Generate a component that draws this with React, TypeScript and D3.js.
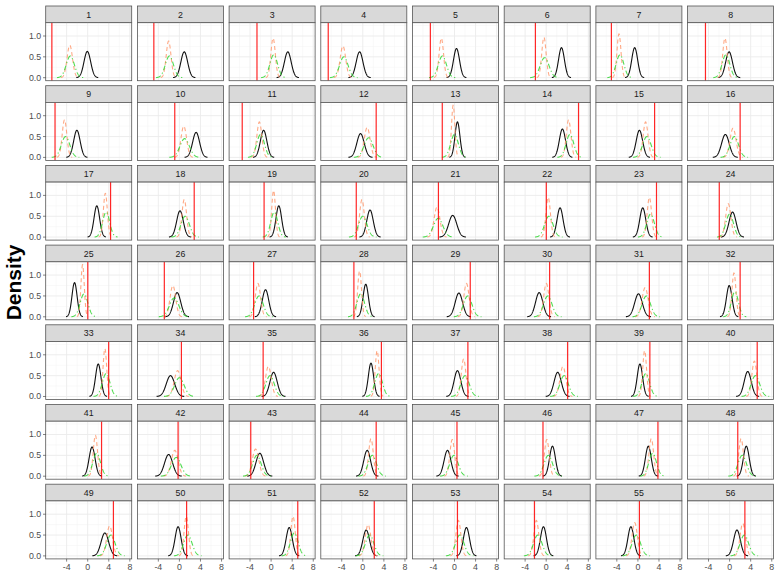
import React from 'react';
import * as d3 from 'd3';

const panelLabels: string[] = Array.from({ length: 56 }, (_, i) => String(i + 1));
const xTicks = [-4, 0, 4, 8];
const xMinor = [-6, -2, 2, 6];
const yTicks = [0, 0.5, 1.0];
const yTickLabels = ['0.0', '0.5', '1.0'];
const yMinor = [0.25, 0.75, 1.25];

// red vertical reference line per panel
const redLine = [
  -6.8, -4.85, -2.68, -6.56, -4.58, -2.05, -5.03, -4.58,
  -6.2, -0.88, -5.48, 2.54, -2.32, 6.14, 3.17, 2.0,
  4.34, 2.81, -1.33, -1.24, -3.05, 0.02, 3.53, -1.96,
  0.02, -2.86, -3.32, -1.69, 2.99, 0.65, 2.18, 2.0,
  3.98, 0.38, -1.51, 3.53, 2.54, 4.07, 2.27, 5.24,
  2.63, -0.25, -3.86, 2.54, 0.47, -0.61, 3.8, 1.55,
  4.88, 1.37, 5.06, 2.18, 0.56, -2.23, 0.29, 2.9,
];
// black solid curve: mode location and peak height
const blackMean = [
  -0.07, 0.92, 3.17, -0.61, 0.38, 2.9, -0.61, -0.1,
  -2.05, 3.17, -1.42, -0.43, 0.56, 3.08, 0.29, -0.8,
  1.73, 0.11, 1.46, 1.37, -0.34, 2.63, 0.92, 0.56,
  -2.5, -0.43, -1.06, 0.56, 0.83, -1.33, 0.11, -0.07,
  2.0, -1.69, 0.47, 1.55, 0.56, 2.18, 0.38, 3.44,
  0.83, -2.05, -2.14, 0.83, -1.33, 1.19, 1.98, 3.17,
  3.26, -0.25, 3.44, 0.65, 2.27, -0.52, -1.33, 1.4,
];
const blackPeak = [
  0.63, 0.62, 0.62, 0.62, 0.7, 0.72, 0.72, 0.62,
  0.65, 0.6, 0.65, 0.57, 0.85, 0.68, 0.65, 0.55,
  0.75, 0.63, 0.75, 0.65, 0.52, 0.7, 0.7, 0.6,
  0.82, 0.58, 0.65, 0.78, 0.57, 0.58, 0.55, 0.75,
  0.78, 0.5, 0.58, 0.8, 0.62, 0.58, 0.78, 0.6,
  0.7, 0.52, 0.55, 0.62, 0.62, 0.72, 0.72, 0.72,
  0.55, 0.7, 0.68, 0.62, 0.68, 0.7, 0.7, 0.62,
];
// orange dashed curve
const orangeMean = [
  -3.4, -2.05, 0.38, -3.77, -2.5, -0.43, -3.59, -0.88,
  -4.4, 0.83, -2.23, 0.83, -0.25, 4.25, 1.46, 0.65,
  3.35, 0.92, 0.47, -0.16, -3.32, 0.38, 2.18, -0.25,
  -0.97, -1.24, -2.5, -0.61, 2.27, 0.02, 1.37, 0.83,
  3.26, -0.34, -0.52, 2.72, 1.73, 3.17, 1.28, 4.7,
  1.46, -0.88, -2.95, 1.55, -0.43, 0.11, 2.54, 2.18,
  4.16, 1.3, 4.16, 1.0, 0.74, -1.87, -0.61, 2.5,
];
const orangePeak = [
  0.78, 0.88, 0.95, 0.76, 0.95, 0.97, 1.05, 0.95,
  0.9, 0.75, 0.85, 0.72, 1.25, 0.9, 0.85, 0.7,
  1.05, 0.9, 1.12, 0.9, 0.72, 0.95, 0.95, 0.8,
  1.25, 0.75, 0.8, 1.1, 0.8, 0.8, 0.7, 1.05,
  1.15, 0.62, 0.72, 1.1, 0.9, 0.72, 1.1, 0.85,
  0.98, 0.62, 0.65, 0.9, 0.88, 0.88, 0.9, 0.9,
  0.72, 0.95, 0.95, 0.75, 0.85, 0.85, 0.8, 0.78,
];
// green dot-dash curve
const greenMean = [
  -3.3, -1.9, 0.5, -3.6, -2.3, -0.3, -3.4, -0.7,
  -4.2, 1.0, -2.0, 1.1, 0.0, 4.5, 1.7, 0.9,
  3.5, 1.1, 0.6, 0.0, -3.1, 0.5, 2.4, 0.0,
  -0.7, -1.0, -2.3, -0.4, 2.5, 0.3, 1.6, 1.0,
  3.5, 0.0, -0.2, 3.0, 2.0, 3.4, 1.5, 4.9,
  1.7, -0.6, -2.7, 1.8, -0.1, 0.4, 2.8, 2.4,
  4.4, 1.6, 4.4, 1.3, 1.0, -1.6, -0.3, 2.8,
];
const greenPeak = [
  0.52, 0.52, 0.55, 0.5, 0.52, 0.48, 0.55, 0.55,
  0.5, 0.45, 0.55, 0.47, 0.55, 0.55, 0.5, 0.5,
  0.6, 0.5, 0.6, 0.5, 0.45, 0.5, 0.55, 0.55,
  0.55, 0.45, 0.5, 0.55, 0.5, 0.5, 0.5, 0.6,
  0.55, 0.45, 0.5, 0.55, 0.5, 0.5, 0.55, 0.5,
  0.55, 0.45, 0.5, 0.5, 0.5, 0.5, 0.55, 0.5,
  0.5, 0.5, 0.55, 0.5, 0.5, 0.5, 0.5, 0.5,
];

const W = 781;
const H = 575;
const nCols = 8;
const nRows = 7;
const colX0 = 45.7;
const colStep = 91.7;
const panelW = 86;
const rowY0 = 6;
const rowStep = 79.7;
const stripH = 16.7;
const panelH = 58;
const FONT = 'Liberation Sans, Arial, sans-serif';

export default function App() {
  const x = d3.scaleLinear().domain([-7.97, 8.35]).range([0, panelW]);
  const y = d3.scaleLinear().domain([-0.072, 1.319]).range([panelH, 0]);
  const line = d3
    .line<[number, number]>()
    .x((d) => x(d[0]))
    .y((d) => y(d[1]));

  const curve = (m: number, peak: number) => {
    const sd = 0.39894 / peak;
    const lo = Math.max(m - 3.3 * sd, -7.97);
    const hi = Math.min(m + 3.3 * sd, 8.35);
    const pts: [number, number][] = d3
      .range(lo, hi, 0.04)
      .map((v) => [v, peak * Math.exp(-0.5 * ((v - m) / sd) ** 2)] as [number, number]);
    return line(pts) || '';
  };

  const panels = panelLabels.map((lab, i) => {
    const c = i % nCols;
    const r = Math.floor(i / nCols);
    const px = colX0 + c * colStep;
    const py = rowY0 + r * rowStep + stripH;
    return (
      <g key={lab}>
        <g transform={`translate(${px},${rowY0 + r * rowStep})`}>
          <rect x={0} y={0} width={panelW} height={stripH} fill="#D9D9D9" stroke="#555" strokeWidth={0.8} />
          <text x={panelW / 2} y={stripH / 2 + 3.2} textAnchor="middle" fontSize={8.8} fill="#1A1A1A" fontFamily={FONT}>
            {lab}
          </text>
        </g>
        <g transform={`translate(${px},${py})`}>
          <defs>
            <clipPath id={`clip${i}`}>
              <rect x={0} y={0} width={panelW} height={panelH} />
            </clipPath>
          </defs>
          <rect x={0} y={0} width={panelW} height={panelH} fill="#FFFFFF" />
          {xMinor.map((t) => (
            <line key={'xm' + t} x1={x(t)} x2={x(t)} y1={0} y2={panelH} stroke="#F2F2F2" strokeWidth={0.5} />
          ))}
          {yMinor.map((t) => (
            <line key={'ym' + t} x1={0} x2={panelW} y1={y(t)} y2={y(t)} stroke="#F2F2F2" strokeWidth={0.5} />
          ))}
          {xTicks.map((t) => (
            <line key={'xg' + t} x1={x(t)} x2={x(t)} y1={0} y2={panelH} stroke="#EBEBEB" strokeWidth={0.9} />
          ))}
          {yTicks.map((t) => (
            <line key={'yg' + t} x1={0} x2={panelW} y1={y(t)} y2={y(t)} stroke="#EBEBEB" strokeWidth={0.9} />
          ))}
          <g clipPath={`url(#clip${i})`}>
            <path d={curve(blackMean[i], blackPeak[i])} fill="none" stroke="#111111" strokeWidth={1.1} />
            <path d={curve(orangeMean[i], orangePeak[i])} fill="none" stroke="#FF9A70" strokeOpacity={0.85} strokeWidth={1.1} strokeDasharray="4,3" />
            <path d={curve(greenMean[i], greenPeak[i])} fill="none" stroke="#33D633" strokeOpacity={0.85} strokeWidth={1.1} strokeDasharray="5,2.5,1.2,2.5" />
            <line x1={x(redLine[i])} x2={x(redLine[i])} y1={0} y2={panelH} stroke="#FF0000" strokeOpacity={0.85} strokeWidth={1.2} />
          </g>
          <rect x={0} y={0} width={panelW} height={panelH} fill="none" stroke="#555" strokeWidth={0.8} />
          {c === 0 &&
            yTicks.map((t, k) => (
              <g key={'yt' + t}>
                <line x1={-2.7} x2={0} y1={y(t)} y2={y(t)} stroke="#333" strokeWidth={0.6} />
                <text x={-4.5} y={y(t) + 3} textAnchor="end" fontSize={8.8} fill="#4D4D4D" fontFamily={FONT}>
                  {yTickLabels[k]}
                </text>
              </g>
            ))}
          {r === nRows - 1 &&
            xTicks.map((t) => (
              <g key={'xt' + t}>
                <line x1={x(t)} x2={x(t)} y1={panelH} y2={panelH + 2.7} stroke="#333" strokeWidth={0.6} />
                <text x={x(t)} y={panelH + 11} textAnchor="middle" fontSize={8.8} fill="#4D4D4D" fontFamily={FONT}>
                  {String(t)}
                </text>
              </g>
            ))}
        </g>
      </g>
    );
  });

  return (
    <svg width={W} height={H} style={{ position: 'absolute', left: 0, top: 0, background: '#FFFFFF' }}>
      <rect x={0} y={0} width={W} height={H} fill="#FFFFFF" />
      {panels}
      <text
        transform={`translate(21,${(rowY0 + (nRows - 1) * rowStep + stripH + panelH + rowY0) / 2}) rotate(-90)`}
        textAnchor="middle"
        fontSize={21}
        fontWeight="bold"
        fill="#000"
        fontFamily={FONT}
      >
        Density
      </text>
    </svg>
  );
}
